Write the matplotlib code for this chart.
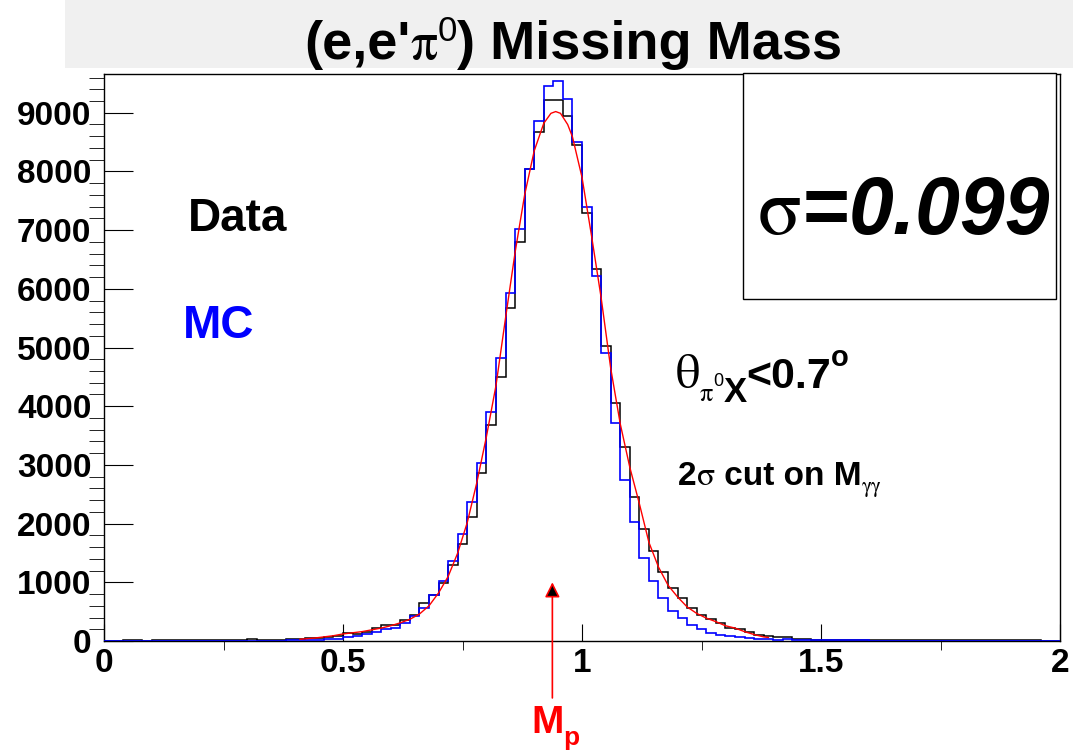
import matplotlib
matplotlib.use("Agg")
import matplotlib.pyplot as plt
from matplotlib.patches import Rectangle
import numpy as np

W, H = 1073, 752

# --- data ---
bin_low, bin_width = 0.0, 0.02   # 100 bins, 0..2

data_counts = [
    0, 0, 10, 10, 0, 10, 10, 10, 10, 10,
    10, 10, 10, 10, 10, 30, 15, 25, 25, 30,
    35, 45, 50, 70, 90, 130, 120, 160, 220, 270,
    280, 360, 450, 650, 780, 990, 1300, 1650, 2120, 2860,
    3680, 4500, 5670, 6800, 8050, 8680, 9220, 9220, 8940, 8450,
    7300, 6340, 5030, 4060, 3300, 2450, 1900, 1530, 1180, 900,
    730, 560, 440, 370, 300, 230, 200, 160, 100, 90,
    70, 60, 35, 30, 25, 20, 20, 15, 10, 10,
    10, 10, 10, 10, 10, 10, 10, 10, 10, 10,
    10, 10, 10, 10, 10, 10, 10, 10, 0, 0,
]

mc_counts = [
    0, 0, 0, 0, 0, 0, 0, 0, 0, 0,
    0, 0, 0, 0, 5, 5, 5, 5, 5, 10,
    15, 20, 25, 30, 30, 75, 80, 120, 160, 200,
    230, 310, 430, 560, 790, 1020, 1360, 1820, 2370, 3030,
    3910, 4830, 5930, 7020, 8050, 8860, 9460, 9540, 9240, 8510,
    7390, 6220, 4900, 3710, 2750, 2030, 1410, 1030, 730, 510,
    390, 280, 200, 140, 110, 90, 60, 50, 30, 30,
    20, 40, 20, 15, 10, 10, 10, 10, 10, 10,
    0, 0, 0, 0, 0, 0, 0, 0, 0, 0,
    0, 0, 0, 0, 0, 0, 0, 0, 0, 0,
]

# fit curve sampled from the red line
fit_x = [0.41, 0.44, 0.48, 0.50, 0.54, 0.58, 0.60, 0.62, 0.64, 0.66,
         0.68, 0.70, 0.72, 0.74, 0.76, 0.78, 0.80, 0.82, 0.84, 0.86,
         0.88, 0.90, 0.92, 0.935, 0.945, 0.955, 0.97, 0.98, 1.00, 1.02,
         1.04, 1.06, 1.08, 1.10, 1.12, 1.14, 1.16, 1.18, 1.20, 1.22,
         1.24, 1.26, 1.28, 1.30, 1.32, 1.34, 1.36, 1.38, 1.39]
fit_y = [30, 50, 90, 120, 160, 220, 260, 310, 370, 460,
         600, 820, 1100, 1500, 2020, 2700, 3480, 4350, 5500, 6620,
         7600, 8350, 8820, 8990, 9020, 8990, 8800, 8590, 7900, 6900,
         5850, 4650, 3700, 2960, 2340, 1680, 1260, 950, 750, 580,
         470, 390, 330, 260, 220, 160, 110, 70, 60]

proton_mass = 0.938
arrow_top = 1000
ymax = 9660

plt.rcParams['font.family'] = ['Liberation Sans', 'DejaVu Sans']

fig = plt.figure(figsize=(W / 100, H / 100), dpi=100)
renderer = fig.canvas.get_renderer()

# grey title pad
fig.patches.append(Rectangle((65 / W, 1 - 68 / H), 1 - 65 / W, 68 / H,
                             transform=fig.transFigure, fc='#f0f0f0', ec='none', zorder=0))

ax = fig.add_axes([104 / W, 1 - 641 / H, (1060 - 104) / W, (641 - 74) / H])

edges = bin_low + bin_width * np.arange(len(data_counts) + 1)
ax.stairs(data_counts, edges, color='black', lw=1.1, zorder=3)
ax.stairs(mc_counts, edges, color='blue', lw=1.2, zorder=4)
ax.plot(fit_x, fit_y, color='red', lw=1.0, zorder=5)

ax.set_xlim(0, 2)
ax.set_ylim(0, ymax)
ax.set_xticks([0, 0.5, 1, 1.5, 2])
ax.set_xticklabels(['0', '0.5', '1', '1.5', '2'])
ax.set_xticks(np.arange(0, 2.01, 0.25), minor=True)
ax.set_yticks(np.arange(0, 9001, 1000))
ax.set_yticks(np.arange(0, 9601, 200), minor=True)
ax.tick_params(direction='in', top=False, right=False, width=0.8, labelsize=24)
ax.tick_params(axis='x', which='major', length=12.5, pad=5)
ax.tick_params(axis='x', which='minor', length=6.5)
ax.tick_params(axis='y', which='major', length=21, pad=9)
ax.tick_params(axis='y', which='minor', length=10.5)
for lab in ax.get_xticklabels() + ax.get_yticklabels():
    lab.set_fontweight('bold')
for sp in ax.spines.values():
    sp.set_linewidth(1.0)

# sigma box
ax.add_patch(Rectangle(((743 - 104) / 956, (641 - 299) / 567), (1056 - 743) / 956,
                       (299 - 73) / 567, transform=ax.transAxes, fc='white',
                       ec='black', lw=1.0, clip_on=False, zorder=6))

# M_p arrow
ax.annotate('', xy=(proton_mass, arrow_top), xytext=(proton_mass, -970),
            arrowprops=dict(arrowstyle='-|>,head_length=0.5,head_width=0.25',
                            ec='red', fc='black', lw=1.2, shrinkA=0, shrinkB=0,
                            mutation_scale=18),
            annotation_clip=False, zorder=6)


def chain(x, y, parts):
    # pixel coords from top-left; each piece starts where the last ended
    for s, dy, kw in parts:
        t = fig.text(x / W, 1 - (y + dy) / H, s, ha='left', va='baseline', **kw)
        x = t.get_window_extent(renderer).x1


bold = dict(fontweight='bold')
greek = dict(family='STIXGeneral')

# title
chain(304, 59, [
    ("(e,e'", 0, dict(fontsize=39, **bold)),
    ("π", 0, dict(fontsize=39, **greek)),
    ("0", -18, dict(fontsize=25)),
    (") Missing Mass", 0, dict(fontsize=39, **bold)),
])

fig.text(188 / W, 1 - 231 / H, 'Data', fontsize=33, fontweight='bold', color='black')
fig.text(183 / W, 1 - 338 / H, 'MC', fontsize=33, fontweight='bold', color='blue')

# sigma
chain(758, 234, [
    ("σ", 0, dict(fontsize=58, **greek)),
    ("=", 0, dict(fontsize=58, **bold)),
    ("0.099", 0, dict(fontsize=58, fontweight='bold', style='italic')),
])

# angle cut
chain(676, 388, [
    ("θ", 0, dict(fontsize=35, **greek)),
    ("π", 13, dict(fontsize=19, **greek)),
    ("0", -2, dict(fontsize=13)),
    ("X", 14, dict(fontsize=25, **bold)),
    ("<0.7", 0, dict(fontsize=31, **bold)),
    ("o", -22, dict(fontsize=21, **bold)),
])

# M_gg cut
chain(678, 485, [
    ("2", 0, dict(fontsize=24, **bold)),
    ("σ", 0, dict(fontsize=24, **greek)),
    (" cut on M", 0, dict(fontsize=24, **bold)),
    ("γγ", 7, dict(fontsize=15, **greek)),
])

# M_p label
chain(531, 733, [
    ("M", 0, dict(fontsize=28, color='red', **bold)),
    ("p", 12, dict(fontsize=19, color='red', **bold)),
])

fig.savefig('out.png', dpi=100)
